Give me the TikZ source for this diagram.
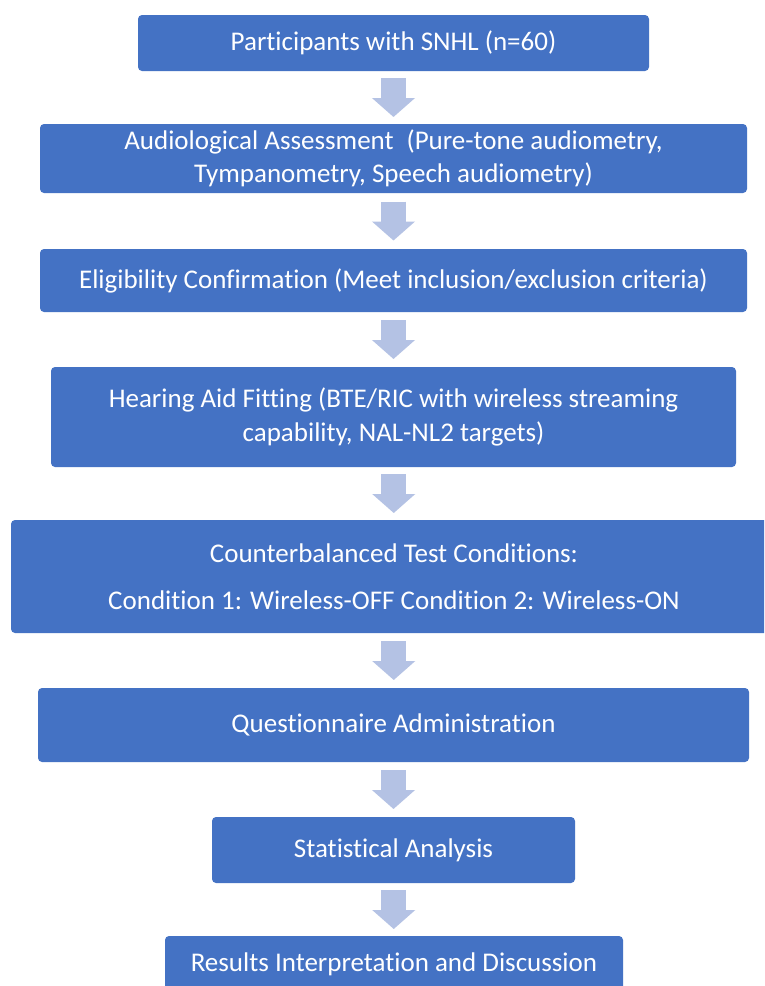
\documentclass[tikz,border=0pt]{standalone}
\usepackage{fontspec}
\setmainfont{Carlito}[Ligatures=NoCommon]
\usetikzlibrary{calc,arrows.meta}
\definecolor{boxblue}{HTML}{4472C4}
\definecolor{arrowblue}{HTML}{B4C2E4}
\tikzset{
  box/.style={fill=boxblue, draw=none, rounded corners=4pt, text=white, align=center,
    inner sep=0pt, font=\fontsize{27}{33}\selectfont},
  barrow/.style={draw=arrowblue, line width=25pt, -{Triangle[width=42pt,length=19pt,fill=arrowblue]}}
}
\begin{document}
\begin{tikzpicture}[x=1pt,y=1pt]
\useasboundingbox (0,0) rectangle (764,-986);
\clip (0,0) rectangle (764,-986);
\fill[white] (0,0) rectangle (764,-986);
\node[box, minimum width=511pt, minimum height=56pt] (b1) at (393.5,-43) {Participants with SNHL (n=60)};
\node[box, minimum width=707pt, minimum height=69pt] (b2) at (393.5,-158.5) {Audiological Assessment\hspace{0.25em} (Pure-tone audiometry,\\Tympanometry, Speech audiometry)};
\node[box, minimum width=707pt, minimum height=63pt] (b3) at (393.5,-280.5) {Eligibility Confirmation (Meet inclusion/exclusion criteria)};
\node[box, minimum width=685pt, minimum height=100pt, font=\fontsize{27}{34}\selectfont] (b4) at (393.5,-417) {Hearing Aid Fitting (BTE/RIC with wireless streaming\\capability, NAL-NL2 targets)};
\node[box, minimum width=766pt, minimum height=113pt, font=\fontsize{27}{47}\selectfont] (b5) at (394,-576.5) {Counterbalanced Test Conditions:\\Condition 1: Wireless-OFF Condition 2: Wireless-ON};
\node[box, minimum width=711pt, minimum height=74pt] (b6) at (393.5,-725) {Questionnaire Administration};
\node[box, minimum width=363pt, minimum height=66pt] (b7) at (393.5,-850) {Statistical Analysis};
\node[box, minimum width=458pt, minimum height=56pt] (b8) at (394,-964) {Results Interpretation and Discussion};
\foreach \a/\b in {b1/b2,b2/b3,b3/b4,b4/b5,b5/b6,b6/b7,b7/b8}{
  \draw[barrow] ($(\a.south)!0.5!(\b.north)+(0,19.5)$) -- ($(\a.south)!0.5!(\b.north)-(0,19.5)$);
}
\end{tikzpicture}
\end{document}
